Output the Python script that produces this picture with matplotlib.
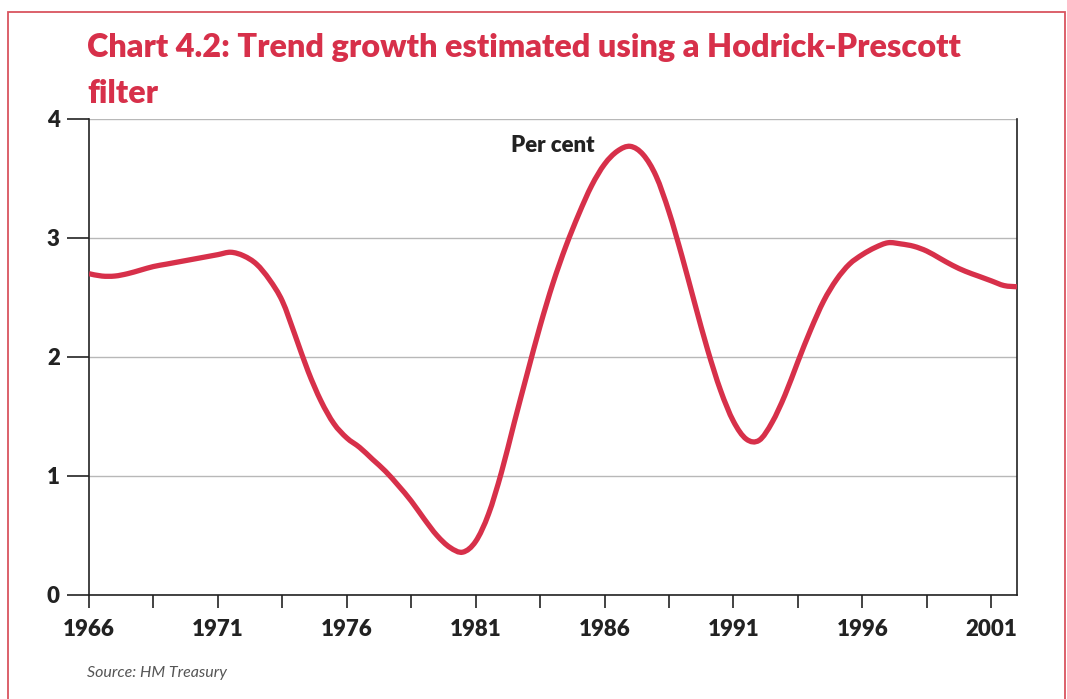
import matplotlib.pyplot as plt
from matplotlib.patches import Rectangle, PathPatch
from matplotlib.path import Path

# HP-filter trend growth, per cent, read at half-year steps
years = [1966.0 + 0.5 * i for i in range(73)]
trend = [
    2.70, 2.68, 2.68, 2.70, 2.73, 2.76, 2.78, 2.80, 2.82, 2.84,
    2.86, 2.88, 2.85, 2.78, 2.65, 2.47, 2.18, 1.88, 1.63, 1.44,
    1.32, 1.24, 1.14, 1.04, 0.92, 0.79, 0.64, 0.50, 0.40, 0.36,
    0.45, 0.68, 1.03, 1.45, 1.86, 2.26, 2.62, 2.93, 3.20, 3.44,
    3.62, 3.73, 3.77, 3.70, 3.52, 3.22, 2.85, 2.45, 2.06, 1.72,
    1.46, 1.31, 1.30, 1.45, 1.68, 1.96, 2.23, 2.47, 2.65, 2.78,
    2.86, 2.92, 2.96, 2.95, 2.93, 2.89, 2.83, 2.77, 2.72, 2.68,
    2.64, 2.60, 2.59,
]

xticks = [1966 + 2.5 * i for i in range(15)]
xlabels = ['1966', '', '1971', '', '1976', '', '1981', '', '1986', '',
           '1991', '', '1996', '', '2001']
yticks = [0, 1, 2, 3, 4]

red = '#d7304a'
ink = '#222222'
plt.rcParams['font.family'] = ['Lato', 'DejaVu Sans']


def smooth_path(xs, ys):
    # Catmull-Rom through the points, written as cubic Bezier segments
    pts = list(zip(xs, ys))
    verts = [pts[0]]
    codes = [Path.MOVETO]
    n = len(pts)
    for i in range(n - 1):
        p0 = pts[max(i - 1, 0)]
        p1 = pts[i]
        p2 = pts[i + 1]
        p3 = pts[min(i + 2, n - 1)]
        c1 = (p1[0] + (p2[0] - p0[0]) / 6, p1[1] + (p2[1] - p0[1]) / 6)
        c2 = (p2[0] - (p3[0] - p1[0]) / 6, p2[1] - (p3[1] - p1[1]) / 6)
        verts += [c1, c2, p2]
        codes += [Path.CURVE4] * 3
    return Path(verts, codes)


fig = plt.figure(figsize=(10.67, 6.99), dpi=100)
ax = fig.add_axes([0.0834, 0.1488, 0.8697, 0.681])

# thin red frame round the panel
fig.patches.append(Rectangle((0.0075, -0.05), 0.9905, 1.033, transform=fig.transFigure,
                             fill=False, edgecolor='#d9545f', linewidth=1.3))

ax.add_patch(PathPatch(smooth_path(years, trend), facecolor='none', edgecolor=red,
                       linewidth=3.8, capstyle='butt', joinstyle='round', zorder=3))

ax.set_xlim(1966, 2002)
ax.set_ylim(0, 4)
ax.set_xticks(xticks)
ax.set_xticklabels(xlabels)
ax.set_yticks(yticks)
ax.grid(axis='y', color='#b8b8b8', linewidth=1)
ax.set_axisbelow(True)

ax.spines['top'].set_visible(False)
for s in ['left', 'right', 'bottom']:
    ax.spines[s].set_linewidth(1.2)
    ax.spines[s].set_color(ink)

ax.tick_params(axis='y', length=16, width=1.2, color=ink, pad=5,
               labelsize=16, labelcolor=ink)
ax.tick_params(axis='x', length=9, width=1.2, color=ink, pad=8,
               labelsize=16, labelcolor=ink)
for lab in ax.get_xticklabels() + ax.get_yticklabels():
    lab.set_fontweight('heavy')

ax.text(0.455, 0.945, 'Per cent', transform=ax.transAxes, fontsize=16,
        fontweight='heavy', color=ink, ha='left', va='center')

fig.text(0.0815, 0.932, 'Chart 4.2: Trend growth estimated using a Hodrick-Prescott',
         fontsize=23.3, fontweight='heavy', color=red, ha='left', va='center')
fig.text(0.0815, 0.866, 'filter',
         fontsize=23.3, fontweight='heavy', color=red, ha='left', va='center')
fig.text(0.0815, 0.037, 'Source: HM Treasury', fontsize=11.5, style='italic',
         color='#555555', ha='left', va='center')

fig.savefig('out.png', dpi=100)
